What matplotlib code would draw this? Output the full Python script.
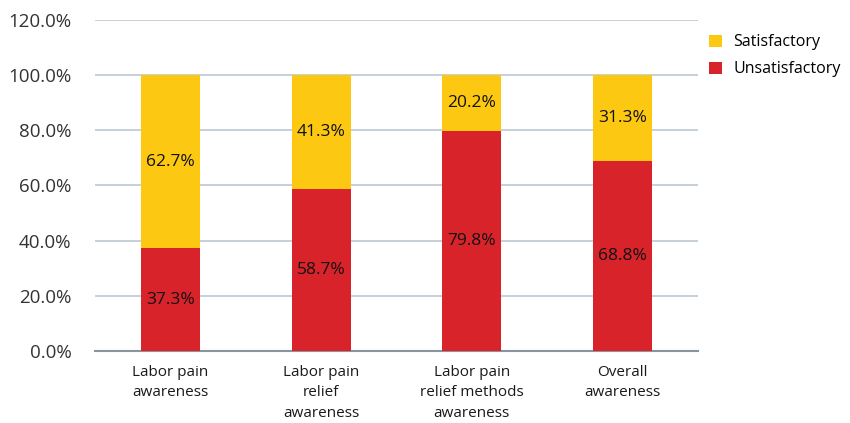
import matplotlib.pyplot as plt
import numpy as np
from matplotlib.ticker import FuncFormatter

plt.rcParams['font.family'] = ['Open Sans', 'DejaVu Sans']

categories = ['Labor pain\nawareness', 'Labor pain\nrelief\nawareness',
              'Labor pain\nrelief methods\nawareness', 'Overall\nawareness']
unsatisfactory = [37.3, 58.7, 79.8, 68.8]
satisfactory = [62.7, 41.3, 20.2, 31.3]

yellow = '#FDC811'
red = '#D9232B'

fig = plt.figure(figsize=(8.5, 4.23), dpi=100)
ax = fig.add_axes([0.112, 0.170, 0.709, 0.783])

x = np.arange(len(categories))
w = 0.39
ax.bar(x, unsatisfactory, w, color=red, label='Unsatisfactory', zorder=3)
ax.bar(x, satisfactory, w, bottom=unsatisfactory, color=yellow, label='Satisfactory', zorder=3)

for i in range(len(x)):
    ax.text(x[i], unsatisfactory[i] / 2, '%.1f%%' % unsatisfactory[i],
            ha='center', va='center', fontsize=12.5, color='#111111', zorder=4)
    ax.text(x[i], unsatisfactory[i] + satisfactory[i] / 2, '%.1f%%' % satisfactory[i],
            ha='center', va='center', fontsize=12.5, color='#111111', zorder=4)

ax.set_xlim(-0.5, len(x) - 0.5)
ax.set_ylim(0, 120)
ax.set_yticks(np.arange(0, 121, 20))
ax.yaxis.set_major_formatter(FuncFormatter(lambda v, p: '%.1f%%' % v))
ax.set_xticks(x)
ax.set_xticklabels(categories, fontsize=11, color='#1a1a1a', linespacing=1.5)
ax.tick_params(axis='y', labelsize=13.5, colors='#333333', length=0, pad=17)
ax.tick_params(axis='x', length=0, pad=10)

ax.yaxis.grid(True, color='#C5D0D9', linewidth=1.4, zorder=0)
for s in ['top', 'right', 'left']:
    ax.spines[s].set_visible(False)
ax.spines['bottom'].set_color('#8A949C')
ax.spines['bottom'].set_linewidth(1.5)

handles, labels = ax.get_legend_handles_labels()
ax.legend(handles[::-1], labels[::-1], loc='upper left', bbox_to_anchor=(0.995, 1.0),
          frameon=False, fontsize=11.5, handlelength=0.8, handleheight=0.8,
          handletextpad=0.7, labelspacing=0.7)

plt.savefig('out.png', dpi=100)
